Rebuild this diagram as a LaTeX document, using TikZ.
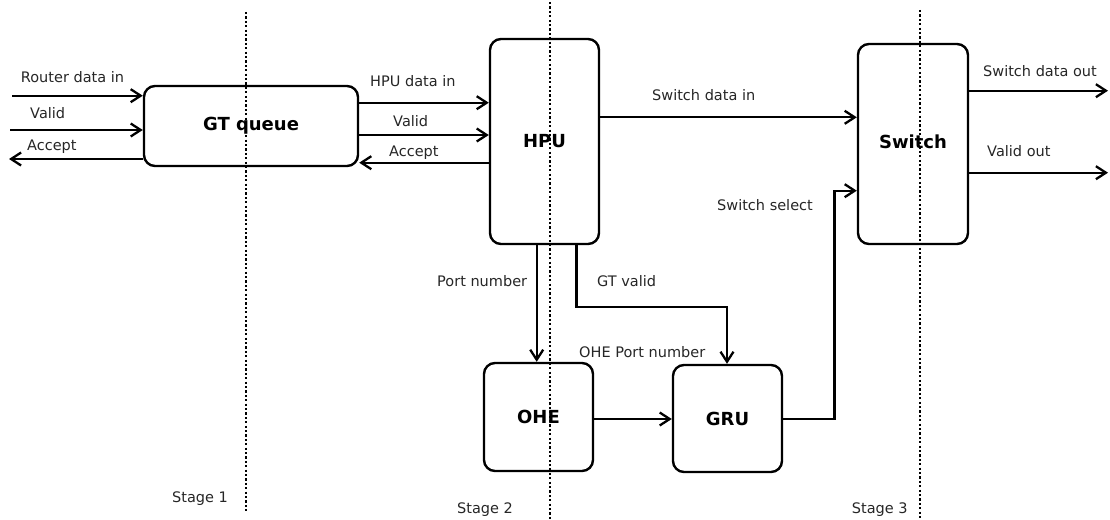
\documentclass[tikz,border=0pt]{standalone}
\usepackage{fontspec}
\setmainfont{DejaVu Sans}
\usetikzlibrary{arrows.meta}
\definecolor{txt}{HTML}{262626}
\begin{document}
\begin{tikzpicture}[x=1pt,y=-1pt,
  box/.style={draw=black,line width=2.4pt,rounded corners=11pt,inner sep=0pt,
    font=\fontsize{18}{20}\selectfont\bfseries,text=black},
  lbl/.style={anchor=base west,inner sep=0pt,text=txt,font=\fontsize{14.5}{17}\selectfont},
  wire/.style={line width=2.3pt,-{Straight Barb[length=10pt,width=13pt,line width=2.3pt]}},
  stageline/.style={line width=2.4pt,dash pattern=on 2.2pt off 2.2pt}]
\useasboundingbox (0,0) rectangle (1110,519);
% stage dividers
\coordinate (s1t) at (246,12); \coordinate (s1b) at (246,511);
\coordinate (s2t) at (550,2);  \coordinate (s2b) at (550,519);
\coordinate (s3t) at (920,10); \coordinate (s3b) at (920,519);
% boxes
\node[box,minimum width=214pt,minimum height=80pt] (gtq) at (251,126) {\raisebox{-10pt}{GT queue}};
\node[box,minimum width=109pt,minimum height=205pt] (hpu) at (544.5,141.5) {\raisebox{2pt}{HPU}};
\node[box,minimum width=110pt,minimum height=200pt] (sw) at (913,144) {\raisebox{4pt}{Switch}};
\node[box,minimum width=109pt,minimum height=108pt] (ohe) at (538.5,417) {\raisebox{-4pt}{OHE}};
\node[box,minimum width=109pt,minimum height=107pt] (gru) at (727.5,418.5) {\raisebox{-2pt}{GRU}};
\draw[stageline] (s1t) -- (s1b);
\draw[stageline] (s2t) -- (s2b);
\draw[stageline] (s3t) -- (s3b);
% free ends
\coordinate (rin) at (12,95.7);
\coordinate (vin) at (10,130);
\coordinate (aout) at (9,159);
\coordinate (sdo) at (1108,90.7);
\coordinate (vo) at (1108,172.7);
% left inputs
\draw[wire] (rin) -- (gtq.west |- rin);
\draw[wire] (vin) -- (gtq.west |- vin);
\draw[wire] (gtq.west |- aout) -- (aout);
% gtq <-> hpu
\draw[wire] (gtq.east |- 0,102.7) -- (hpu.west |- 0,102.7);
\draw[wire] (gtq.east |- 0,135) -- (hpu.west |- 0,135);
\draw[wire] (hpu.west |- 0,162.7) -- (gtq.east |- 0,162.7);
% hpu -> switch
\draw[wire] (hpu.east |- 0,117.3) -- (sw.west |- 0,117.3);
% switch outputs
\draw[wire] (sw.east |- sdo) -- (sdo);
\draw[wire] (sw.east |- vo) -- (vo);
% hpu -> ohe
\draw[wire] (536.7,0 |- hpu.south) -- (536.7,0 |- ohe.north);
% hpu -> gru (GT valid)
\draw[wire] (576.5,0 |- hpu.south) |- (727,306.7) -- (727,0 |- gru.north);
% ohe -> gru
\draw[wire] (ohe.east |- 0,419) -- (gru.west |- 0,419);
% gru -> switch (switch select)
\draw[wire] (gru.east |- 0,419) -| (834.5,190.7) -- (sw.west |- 0,190.7);
% labels
\node[lbl] (l1) at (20.7,82.7) {Router data in};
\node[lbl] (l2) at (30,118) {Valid};
\node[lbl] (l3) at (27,150.7) {Accept};
\node[lbl] (l4) at (370,86.7) {HPU data in};
\node[lbl] (l5) at (393,126.7) {Valid};
\node[lbl] (l6) at (389,156.7) {Accept};
\node[lbl] (l7) at (652,100.7) {Switch data in};
\node[lbl] (l8) at (983,76.7) {Switch data out};
\node[lbl] (l9) at (987,156) {Valid out};
\node[lbl] (l10) at (717,210.7) {Switch select};
\node[lbl] (l11) at (437,286.7) {Port number};
\node[lbl] (l12) at (597,286.7) {GT valid};
\node[lbl] (l13) at (579,357) {OHE Port number};
\node[lbl] (l14) at (172,502.7) {Stage 1};
\node[lbl] (l15) at (457,513) {Stage 2};
\node[lbl] (l16) at (851.7,513) {Stage 3};
\end{tikzpicture}
\end{document}
